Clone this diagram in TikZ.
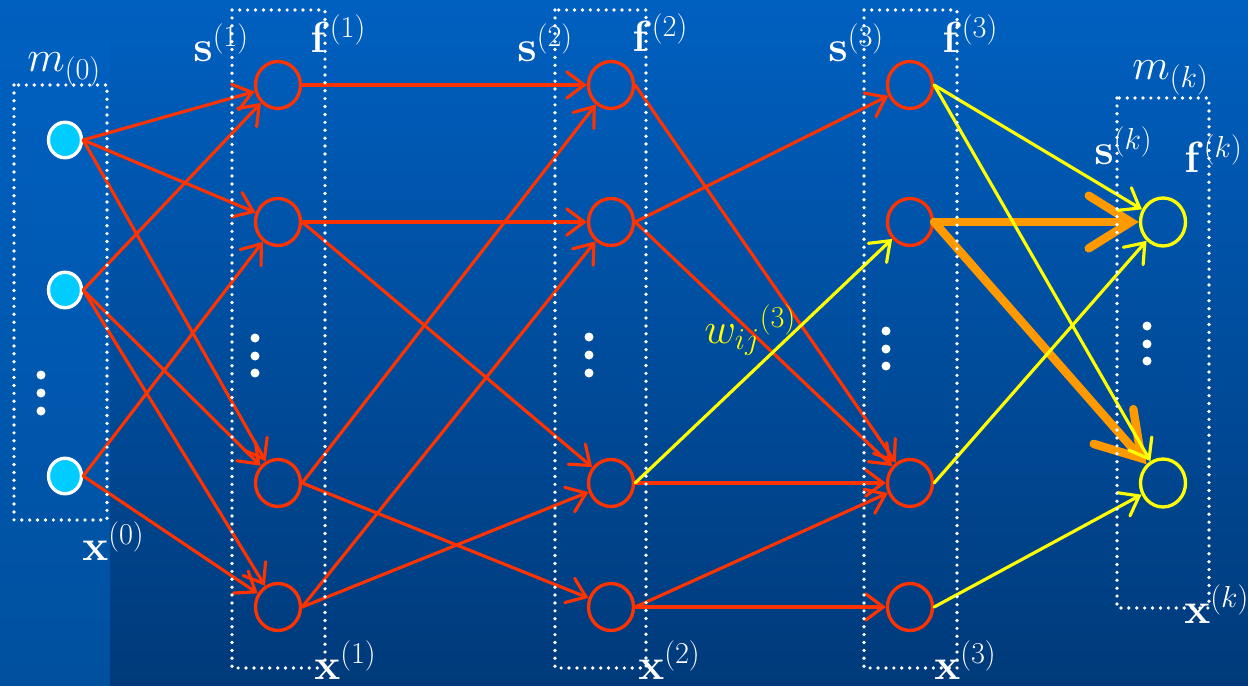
\documentclass[tikz,border=0pt]{standalone}
\usetikzlibrary{arrows.meta,shapes.geometric}
\definecolor{bgtop}{RGB}{0,96,192}
\definecolor{bgbot}{RGB}{0,58,122}
\definecolor{stripbot}{RGB}{0,80,158}
\definecolor{incyan}{RGB}{0,204,255}
\definecolor{nred}{RGB}{255,51,0}
\definecolor{nyellow}{RGB}{255,255,0}
\definecolor{norange}{RGB}{255,153,0}
\begin{document}
\begin{tikzpicture}[x=0.02cm,y=-0.02cm,
  inp/.style={ellipse, draw=white, fill=incyan, line width=1.9pt, minimum width=0.66cm, minimum height=0.71cm, inner sep=0pt},
  hid/.style={ellipse, draw=nred, line width=1.9pt, minimum width=0.9cm, minimum height=0.94cm, inner sep=0pt},
  outn/.style={ellipse, draw=nyellow, line width=1.9pt, minimum width=0.9cm, minimum height=0.96cm, inner sep=0pt},
  layerbox/.style={draw=white, line width=2.1pt, line cap=round, dash pattern=on 0pt off 4.5pt},
  redarr/.style={draw=nred, line width=1.8pt, line cap=round, -{Straight Barb[length=10pt,width=15pt,line cap=round]}},
  yelarr/.style={draw=nyellow, line width=1.8pt, line cap=round, -{Straight Barb[length=10pt,width=15pt,line cap=round]}},
  orarr/.style={draw=norange, line width=4.8pt, line cap=round, -{Straight Barb[length=24pt,width=30pt,line cap=round]}},
  lbl/.style={text=white, anchor=base west, inner sep=0pt, font=\fontsize{26}{30}\selectfont},
  vdot/.style={fill=white, draw=none}
]
\useasboundingbox (0,0) rectangle (1248,686);
% background
\shade[top color=bgtop, bottom color=bgbot] (0,0) rectangle (1248,686);
\shade[top color=bgtop, bottom color=stripbot] (0,40) rectangle (110,686);

% input layer
\node[inp] (i1) at (65,140) {};
\node[inp] (i2) at (65,290) {};
\node[inp] (i3) at (65,476) {};
% hidden layer 1
\node[hid] (a1) at (278,85) {};
\node[hid] (a2) at (278,222) {};
\node[hid] (a3) at (278,483) {};
\node[hid] (a4) at (278,607) {};
% hidden layer 2
\node[hid] (b1) at (611,85) {};
\node[hid] (b2) at (611,222) {};
\node[hid] (b3) at (611,483) {};
\node[hid] (b4) at (611,607) {};
% hidden layer 3
\node[hid] (c1) at (910,85) {};
\node[hid] (c2) at (910,222) {};
\node[hid] (c3) at (910,483) {};
\node[hid] (c4) at (910,607) {};
% output layer
\node[outn] (o1) at (1163,222) {};
\node[outn] (o2) at (1163,483) {};

% vertical dots
\foreach \yy in {375,393,411} \fill[vdot] (41,\yy) circle (0.09cm);
\foreach \yy in {338,356,373} \fill[vdot] (255,\yy) circle (0.09cm);
\foreach \yy in {337,355,373} \fill[vdot] (589,\yy) circle (0.09cm);
\foreach \yy in {331,349,366} \fill[vdot] (886,\yy) circle (0.09cm);
\foreach \yy in {326,344,361} \fill[vdot] (1147,\yy) circle (0.09cm);

% input -> layer 1
\draw[redarr] (i1.east) -- (a1);
\draw[redarr] (i1.east) -- (a2);
\draw[redarr] (i1.east) -- (a3);
\draw[redarr] (i2.east) -- (a1);
\draw[redarr] (i2.east) -- (a3);
\draw[redarr] (i2.east) -- (a4);
\draw[redarr] (i3.east) -- (a2);
\draw[redarr] (i3.east) -- (a4);
% layer 1 -> layer 2
\draw[redarr] (a1.east) -- (b1);
\draw[redarr] (a2.east) -- (b2);
\draw[redarr] (a2.east) -- (b3);
\draw[redarr] (a3.east) -- (b1);
\draw[redarr] (a3.east) -- (b4);
\draw[redarr] (a4.east) -- (b2);
\draw[redarr] (a4.east) -- (b3);
% layer 2 -> layer 3
\draw[redarr] (b1.east) -- (c3);
\draw[redarr] (b2.east) -- (c1);
\draw[redarr] (b2.east) -- (c3);
\draw[redarr] (b3.east) -- (c3);
\draw[redarr] (b4.east) -- (c3);
\draw[redarr] (b4.east) -- (c4);
\draw[yelarr] (b3.east) -- (c2);
% layer 3 -> output
\draw[orarr] (c2.east) -- (o1);
\draw[orarr] (c2.east) -- (o2);
\draw[yelarr] (c1.east) -- (o1);
\draw[yelarr] (c1.east) -- (o2);
\draw[yelarr] (c3.east) -- (o1);
\draw[yelarr] (c4.east) -- (o2);

% weight label
\node[anchor=base west, inner sep=0pt, text=nyellow, font=\fontsize{25}{30}\selectfont] (w) at (704,343) {${w_{ij}}^{(3)}$};

% labels
\node[lbl] (lm0) at (27,72) {$m_{(0)}$};
\node[lbl] (ls1) at (193,62) {$\mathbf{s}^{(1)}$};
\node[lbl] (lf1) at (310,53) {$\mathbf{f}^{(1)}$};
\node[lbl] (ls2) at (517,62) {$\mathbf{s}^{(2)}$};
\node[lbl] (lf2) at (632,52) {$\mathbf{f}^{(2)}$};
\node[lbl] (ls3) at (828,62) {$\mathbf{s}^{(3)}$};
\node[lbl] (lf3) at (942,53) {$\mathbf{f}^{(3)}$};
\node[lbl] (lmk) at (1132,80) {$m_{(k)}$};
\node[lbl] (lsk) at (1094,165) {$\mathbf{s}^{(k)}$};
\node[lbl] (lfk) at (1184,173) {$\mathbf{f}^{(k)}$};
\node[lbl] (lx0) at (82,560) {$\mathbf{x}^{(0)}$};
\node[lbl] (lx1) at (314,679) {$\mathbf{x}^{(1)}$};
\node[lbl] (lx2) at (638,679) {$\mathbf{x}^{(2)}$};
\node[lbl] (lx3) at (934,679) {$\mathbf{x}^{(3)}$};
\node[lbl] (lxk) at (1184,623) {$\mathbf{x}^{(k)}$};

% dotted layer boxes
\draw[layerbox] (14,85) rectangle (107,520);
\draw[layerbox] (232,10) rectangle (325,668);
\draw[layerbox] (555,10) rectangle (646,668);
\draw[layerbox] (864,10) rectangle (957,668);
\draw[layerbox] (1117,98) rectangle (1209,608);
\end{tikzpicture}
\end{document}
